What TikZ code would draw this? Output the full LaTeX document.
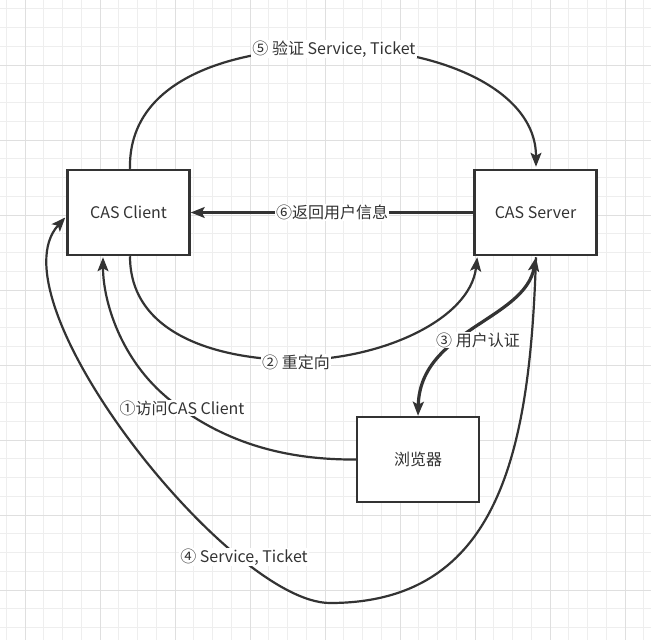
\documentclass[tikz,border=0pt]{standalone}
\usepackage{fontspec}
\setmainfont{Noto Sans CJK SC}
\usetikzlibrary{arrows.meta,calc}
\definecolor{ln}{HTML}{333333}
\definecolor{gminor}{HTML}{EEEEEE}
\definecolor{gmajor}{HTML}{DFDFDF}
\begin{document}
\begin{tikzpicture}[x=1pt,y=-1pt,
  font=\fontsize{16}{19}\selectfont,
  tip/.tip={Stealth[length=14pt,width=11pt,inset=3pt]},
  box/.style={draw=ln, line width=2.5pt, fill=white, minimum width=122pt, minimum height=85pt, text=ln, inner sep=0pt},
  conn/.style={draw=ln, line width=2.2pt, -tip},
  lbl/.style={fill=white, text=ln, inner sep=1pt},
  gmin/.style={draw=gminor, line width=1pt},
  gmaj/.style={draw=gmajor, line width=1pt}]
\fill[white] (0,0) rectangle (651,640);
\useasboundingbox (0,0) rectangle (651,640);
% grid
\foreach \i in {0,...,35} {\draw[gmin] ({6.25+18.75*\i},0) -- ({6.25+18.75*\i},640);}
\foreach \i in {0,...,34} {\draw[gmin] (0,{8.75+18.75*\i}) -- (651,{8.75+18.75*\i});}
\foreach \i in {0,...,8} {\draw[gmaj] ({25+75*\i},0) -- ({25+75*\i},640);}
\foreach \i in {0,...,7} {\draw[gmaj] (0,{65+75*\i}) -- (651,{65+75*\i});}
% boxes
\node[box] (client) at (128.5,212.5) {CAS Client};
\node[box] (server) at (535.5,212.5) {CAS Server};
\node[box] (browser) at (418,459.5) {浏览器};
% (5)
\draw[conn] ($(client.north)+(1.5,0)$) .. controls (128,80) and (230,48) .. (334,48)
  .. controls (440,48) and (536,90) .. ($(server.north)+(0.5,-2)$);
\node[lbl] (l5) at (334,49) {⑤ 验证 Service, Ticket};
% (6)
\draw[conn] (server.west) -- node[lbl] (l6) {⑥返回用户信息} (client.east);
% (2)
\draw[conn] ($(client.south)+(1.5,0)$) .. controls (130,340) and (230,360) .. (296,360)
  .. controls (380,360) and (470,320) .. ($(server.south west)+(4,1)$);
\node[lbl] (l2) at (296,362) {② 重定向};
% (3)
\draw[conn, line width=3.2pt, tip-tip]
  ($(server.south)+(0.5,1)$) .. controls (525,320) and (420,330) .. (browser.north);
\node[lbl] (l3) at (478,340) {③ 用户认证};
% (1)
\draw[conn] (browser.west) .. controls (280,460) and (220,440) .. (170,400)
  .. controls (120,360) and (103,300) .. ($(client.south)+(-25.5,1)$);
\node[lbl] (l1) at (182,408) {①访问CAS Client};
% (4)
\draw[conn] ($(server.south)+(0.5,1)$) .. controls (530,450) and (500,603) .. (330,603)
  .. controls (230,603) and (-10,300) .. ($(client.west)+(-1,5)$);
\node[lbl] (l4) at (244,557) {④ Service, Ticket};
\end{tikzpicture}
\end{document}
